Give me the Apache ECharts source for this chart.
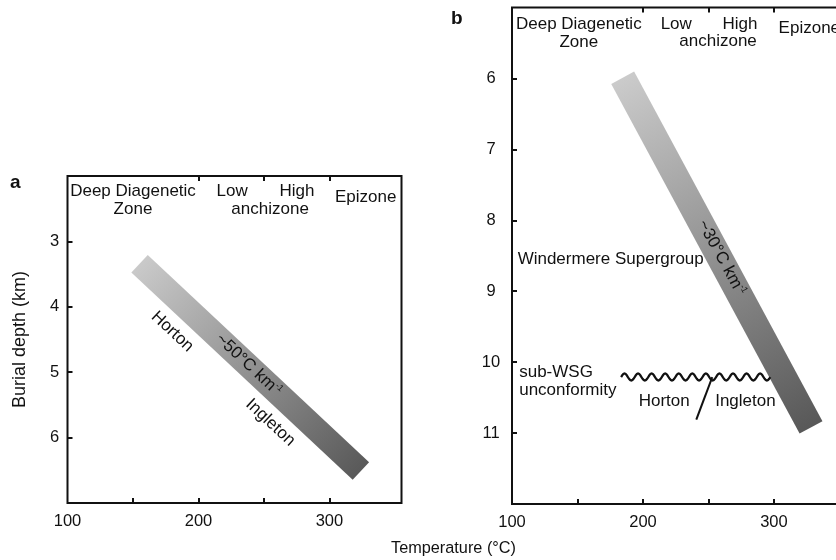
<!DOCTYPE html>
<html>
<head>
<meta charset="utf-8">
<title>Burial depth vs temperature</title>
<script src="https://cdn.jsdelivr.net/npm/echarts@6/dist/echarts.min.js"></script>
<style>
  html, body { margin: 0; padding: 0; background: #fff; }
  #main { width: 836px; height: 560px; }
</style>
</head>
<body>
<div id="main"></div>
<script>
// values
const tempLabels = [100, 200, 300];
const tempTicks = [150, 200, 250, 300];
const zoneBounds = [200, 250, 300];
const depthTicksA = [3, 4, 5, 6];
const depthTicksB = [6, 7, 8, 9, 10, 11];

// ends of the gradient band, [temperature, depth]
const bandA = [[155, 3.34], [324, 6.51]];
const bandB = [[184.5, 5.99], [328.3, 10.92]];

// zone names along the top, [temperature, depth, text]
const zonesA = [
  [150, 2.375, 'Deep Diagenetic\nZone'],
  [225.7, 2.24, 'Low'],
  [275.2, 2.24, 'High'],
  [254.7, 2.51, 'anchizone'],
  [327.7, 2.33, 'Epizone']
];
const zonesB = [
  [151, 5.358, 'Deep Diagenetic\nZone'],
  [225.4, 5.233, 'Low'],
  [274, 5.233, 'High'],
  [257.3, 5.482, 'anchizone'],
  [327, 5.29, 'Epizone']
];

// labels running along the bands
const bandNotesA = [
  [180, 4.38, 'Horton'],
  [254.9, 5.77, 'Ingleton'],
  [238.3, 4.89, '~50°C km{sup|-1}']
];
const bandNotesB = [
  [260, 8.53, '~30°C km{sup|-1}']
];
// flat labels in panel b (left aligned ones first)
const leftNotesB = [
  [104.3, 8.55, 'Windermere Supergroup'],
  [105.5, 10.27, 'sub-WSG\nunconformity']
];
const notesB = [
  [216.2, 10.55, 'Horton'],
  [278.2, 10.55, 'Ingleton']
];

// unconformity [tStart, tEnd, depth] and the Horton / Ingleton divide
const unconformity = [[183.3, 297.2, 10.21]];
const divide = [[252.9, 10.21], [240.7, 10.81]];

const ink = '#111111';
const font = '"Liberation Sans", Arial, sans-serif';

const myChart = echarts.init(document.getElementById('main'));

function bottomAxis(g) {
  return {
    type: 'value', gridIndex: g, position: 'bottom', min: 100, max: 355,
    axisLine: { show: false },
    splitLine: { show: false },
    axisTick: { inside: true, length: 5, customValues: tempTicks, lineStyle: { color: ink, width: 2 } },
    axisLabel: { customValues: tempLabels, margin: 10, fontSize: 16.5, color: ink, fontFamily: font }
  };
}
function topAxis(g) {
  return {
    type: 'value', gridIndex: g, position: 'top', min: 100, max: 355,
    axisLine: { show: false },
    splitLine: { show: false },
    axisTick: { inside: true, length: 5, customValues: zoneBounds, lineStyle: { color: ink, width: 2 } },
    axisLabel: { show: false }
  };
}
function depthAxis(g, min, max, ticks, margin) {
  return {
    type: 'value', gridIndex: g, inverse: true, min: min, max: max,
    axisLine: { show: false },
    splitLine: { show: false },
    axisTick: { inside: true, length: 5, customValues: ticks, lineStyle: { color: ink, width: 2 } },
    axisLabel: { customValues: ticks, margin: margin, align: 'center', fontSize: 16.5, color: ink, fontFamily: font }
  };
}

// invisible points carrying text labels
function textSeries(idx, list, extra) {
  return {
    type: 'scatter', xAxisIndex: idx, yAxisIndex: idx,
    symbolSize: 1, itemStyle: { color: 'transparent' },
    silent: true, z: 5,
    emphasis: { disabled: true },
    data: list.map(d => ({ value: [d[0], d[1]], label: { formatter: d[2] } })),
    label: Object.assign({
      show: true, position: 'inside', fontSize: 17, lineHeight: 18,
      color: ink, fontFamily: font, textBorderWidth: 0, opacity: 1,
      rich: { sup: { fontSize: 9, padding: [0, 0, 9, 0], color: ink, fontFamily: font, textBorderWidth: 0 } }
    }, extra || {})
  };
}

function bandSeries(idx, pts, width) {
  return {
    type: 'line', xAxisIndex: idx, yAxisIndex: idx,
    data: pts, symbol: 'none', silent: true, z: 2,
    lineStyle: {
      width: width, cap: 'butt',
      color: new echarts.graphic.LinearGradient(0, 0, 1, 1, [
        { offset: 0, color: '#d0d0d0' },
        { offset: 1, color: '#535353' }
      ])
    }
  };
}

let option = {
  animation: false,
  backgroundColor: '#fff',
  textStyle: { fontFamily: font },
  grid: [
    { left: 67.5, top: 176, width: 334, height: 327, show: true, borderColor: ink, borderWidth: 2, containLabel: false, outerBoundsMode: 'none' },
    { left: 512, top: 7.5, width: 334, height: 496.5, show: true, borderColor: ink, borderWidth: 2, containLabel: false, outerBoundsMode: 'none' }
  ],
  xAxis: [bottomAxis(0), bottomAxis(1), topAxis(0), topAxis(1)],
  yAxis: [
    Object.assign(depthAxis(0, 2, 7, depthTicksA, 13), {
      name: 'Burial depth (km)', nameLocation: 'middle', nameGap: 38,
      nameTextStyle: { fontSize: 18, color: ink, fontFamily: font }
    }),
    depthAxis(1, 5, 12, depthTicksB, 21)
  ],
  graphic: [
    { type: 'text', left: 10, top: 173, style: { text: 'a', fontSize: 19, fontWeight: 'bold', fill: ink, fontFamily: font } },
    { type: 'text', left: 451, top: 9, style: { text: 'b', fontSize: 19, fontWeight: 'bold', fill: ink, fontFamily: font } },
    { type: 'text', left: 391, top: 541, style: { text: 'Temperature (°C)', fontSize: 16.3, fill: ink, fontFamily: font } }
  ],
  series: [
    bandSeries(0, bandA, 24),
    bandSeries(1, bandB, 26),
    textSeries(0, zonesA),
    textSeries(1, zonesB),
    textSeries(0, bandNotesA, { rotate: -43 }),
    textSeries(1, bandNotesB, { rotate: -61.5 }),
    textSeries(1, leftNotesB, { align: 'left' }),
    textSeries(1, notesB),
    {
      type: 'line', xAxisIndex: 1, yAxisIndex: 1, data: divide,
      symbol: 'none', silent: true, z: 3,
      lineStyle: { color: ink, width: 2 }
    },
    {
      type: 'custom', xAxisIndex: 1, yAxisIndex: 1, silent: true, z: 3,
      data: unconformity,
      encode: { x: [0, 1], y: 2 },
      renderItem: function (params, api) {
        const p0 = api.coord([api.value(0), api.value(2)]);
        const p1 = api.coord([api.value(1), api.value(2)]);
        const waves = 11, amp = 3.5, steps = waves * 12;
        const pts = [];
        for (let i = 0; i <= steps; i++) {
          const t = i / steps;
          pts.push([p0[0] + (p1[0] - p0[0]) * t, p0[1] - amp * Math.sin(t * waves * 2 * Math.PI)]);
        }
        return { type: 'polyline', shape: { points: pts }, style: { stroke: ink, lineWidth: 2.2, fill: null } };
      }
    }
  ]
};
option && myChart.setOption(option);
</script>
</body>
</html>
